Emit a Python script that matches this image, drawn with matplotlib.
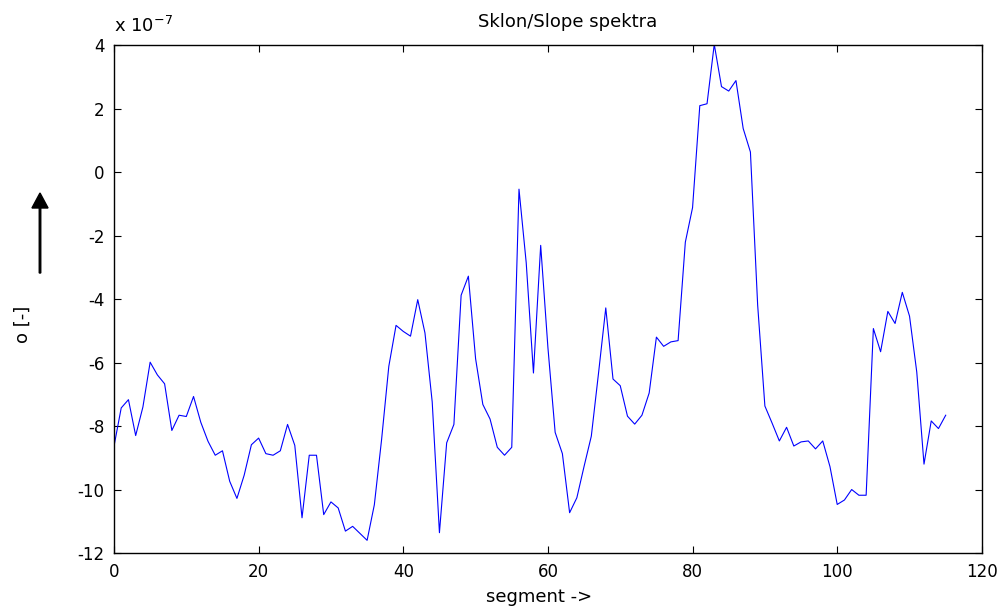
import matplotlib
matplotlib.use("Agg")
import matplotlib.pyplot as plt
import numpy as np

plt.rcParams['font.family'] = ['DejaVu Sans']
plt.rcParams['axes.unicode_minus'] = False

# values in units of 1e-7, segment index 0..115
slope = [
    -8.64, -7.43, -7.17, -8.30, -7.40, -5.99, -6.39, -6.67, -8.14, -7.66,
    -7.70, -7.07, -7.88, -8.48, -8.92, -8.78, -9.74, -10.28, -9.55, -8.59,
    -8.38, -8.87, -8.92, -8.78, -7.95, -8.61, -10.89, -8.92, -8.92, -10.79,
    -10.39, -10.58, -11.31, -11.16, -11.38, -11.60, -10.48, -8.43, -6.12, -4.83,
    -5.02, -5.17, -4.02, -5.07, -7.24, -11.36, -8.53, -7.95, -3.88, -3.28,
    -5.88, -7.32, -7.78, -8.67, -8.92, -8.67, -0.54, -2.86, -6.33, -2.31,
    -5.53, -8.20, -8.87, -10.73, -10.26, -9.27, -8.32, -6.33, -4.28, -6.52,
    -6.73, -7.69, -7.94, -7.66, -6.96, -5.20, -5.49, -5.35, -5.31, -2.21,
    -1.12, 2.09, 2.15, 4.02, 2.69, 2.55, 2.88, 1.37, 0.63, -4.19,
    -7.37, -7.91, -8.47, -8.04, -8.63, -8.50, -8.47, -8.72, -8.47, -9.28,
    -10.47, -10.33, -10.00, -10.18, -10.18, -4.93, -5.66, -4.39, -4.77, -3.79,
    -4.54, -6.30, -9.20, -7.84, -8.08, -7.66,
]
segments = list(range(len(slope)))
xticks = [0, 20, 40, 60, 80, 100, 120]
yticks = [-12, -10, -8, -6, -4, -2, 0, 2, 4]

fig = plt.figure(figsize=(10.06, 6.10), dpi=100)
ax = fig.add_axes([0.1133, 0.0934, 0.8627, 0.8328])
ax.plot(segments, slope, color=(0, 0, 1), linewidth=0.8)
ax.set_xlim(0, 120)
ax.set_ylim(-12, 4)
ax.set_xticks(xticks)
ax.set_yticks(yticks)
ax.set_xticklabels([str(t) for t in xticks])
ax.set_yticklabels([str(t) for t in yticks])
ax.tick_params(direction='in', length=5, width=0.8, top=True, right=True,
               labelsize=12, pad=7)
for s in ax.spines.values():
    s.set_linewidth(1.0)
ax.set_title('Sklon/Slope spektra', fontsize=13, pad=13, x=0.523)
ax.set_xlabel('segment ->', fontsize=13, labelpad=7)
ax.xaxis.set_label_coords(0.49, -0.068)
ax.set_ylabel('o [-]', fontsize=13, labelpad=0)
ax.yaxis.set_label_coords(-0.095, 0.45)
ax.text(0.0, 1.026, r'x 10$^{\mathregular{-7}}$', transform=ax.transAxes,
        fontsize=13, ha='left', va='baseline')
fig.patches.append(matplotlib.patches.FancyArrow(
    40 / 1006, 1 - 273 / 610, 0, (273 - 208) / 610, width=0.0015,
    head_width=0.016, head_length=15 / 610, length_includes_head=False,
    color='black', transform=fig.transFigure, figure=fig))
fig.savefig('out.png', dpi=100)
